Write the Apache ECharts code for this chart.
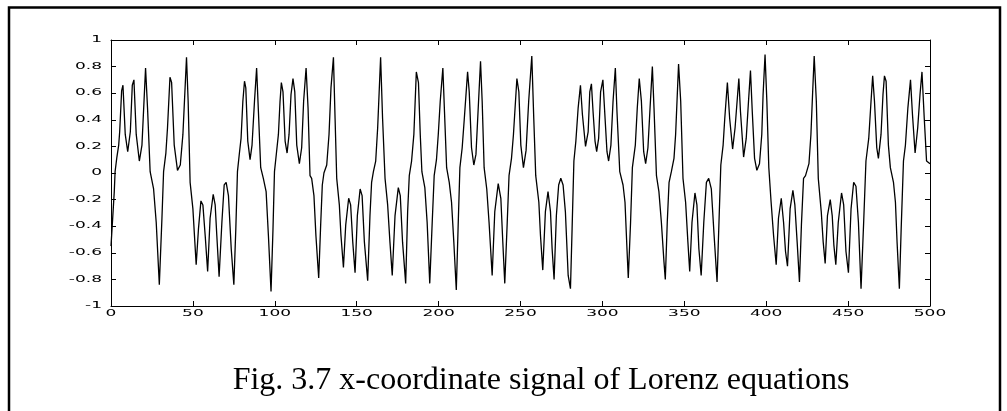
<!DOCTYPE html>
<html><head><meta charset="utf-8">
<script src="https://cdn.jsdelivr.net/npm/echarts@6/dist/echarts.min.js"></script>
<style>html,body{margin:0;padding:0;background:#fff}#c{width:1007px;height:411px}</style>
</head><body><div id="c"></div><script>
// Sample index (x axis) of each read point
const sampleIndex = [0,2,2.5,3.6,4.7,5.3,6.5,7.3,8.7,10.2,11.8,13,14,15.4,17.3,18.9,21.1,22.3,23.9,26,27.6,29.5,31.1,32.1,33.5,34.5,36,37,38.6,40.6,42.3,43.9,46.1,47.1,48.3,50,52,53.4,54.9,56.1,57.5,59,60.5,62.4,63.6,64.6,66,67.7,69.1,70.3,71.7,73.4,75,76.2,77.2,78.4,79.4,80.5,81.5,82.3,83.5,84.9,86.1,87.6,88.9,90,91.4,93,94.7,96.1,97.7,98.9,99.8,101,102.2,103.2,104,105,106.3,107.5,108.7,109.9,111.1,112.2,113.4,115,116.4,117.6,119.1,120.3,121.5,122.5,123.9,125.1,126.8,128,129,130,131.7,133.1,134.3,135.8,136.8,137.8,139.4,140.4,141.9,143.3,145.1,146.3,147.6,149,150.4,152.1,153.3,154.7,156.7,158.1,159.1,160.2,161.6,162.8,164.6,165.8,167.3,168.9,170.3,171.7,173.4,175.4,176.6,178,179.9,181.1,182.1,183.5,184.9,186.4,187.7,188.8,189.8,191.6,193,194.6,196.1,197.3,198.7,199.8,201,202.6,203.6,204.9,206.5,207.9,209.3,210.8,212,213,214.4,215.7,217.7,218.7,220.1,221.5,222.8,224.2,225.6,226.6,227.8,229.4,230.8,232.7,234.3,236.4,238,239.2,240.4,241.9,243,244.5,245.7,247.8,249,250.2,251.8,253.4,255,256.9,258.1,259.3,261.2,262.2,263.6,265.2,266.8,268.3,269.3,270.5,271.9,273.3,274.6,276,277.4,279.1,280.5,281.5,282.6,283.8,285.2,286.6,287.8,289.7,291.3,292.3,293.3,294.3,295.5,296.5,297.7,298.9,300.3,301.4,302.8,303.8,305.2,306.5,307.9,308.9,310.6,312.6,313.8,315,315.8,317.2,318.3,320.1,321.3,322.5,323.8,325.2,326.4,327.8,329.1,330.5,331.5,333,334.5,336,337.6,338.4,339.6,340.7,342.1,343.7,344.7,346.5,347.8,349.2,350.8,352.2,353.3,354.7,356.5,357.7,358.9,360.3,361.9,363.5,364.9,366.5,368.2,370,371.3,372.3,373.7,374.7,376.3,377.7,379.5,381,383.3,384.3,386.2,387.8,389.2,390.4,391.5,392.9,394.3,395.9,397.3,398.1,399.3,400.4,401.6,403,404.5,406.1,407.5,409.2,410.6,411.8,413,414.6,416.3,417.5,418.9,420.3,421.5,422.8,424,426.1,427.3,428.3,429.3,430.6,431.8,433.6,434.8,436,437.4,439.1,440.3,441.3,442.5,444,446,447.3,448.7,450.2,451.8,453.4,454.8,456.3,457.9,459.5,460.9,462.6,464,465,466.1,467.5,468.5,470.1,471.3,472.2,473.2,474.6,475.8,477.7,478.9,479.9,481.3,482.4,483.8,485,486.5,488.1,489.3,490.9,492.5,493.9,495.1,496.5,497.9,500];
// x-coordinate value at each read point
const xSignal = [-0.55,-0.14,0.01,0.12,0.21,0.31,0.62,0.66,0.29,0.16,0.31,0.66,0.70,0.29,0.09,0.21,0.79,0.49,0.01,-0.12,-0.37,-0.84,-0.34,0.01,0.15,0.34,0.72,0.68,0.21,0.02,0.06,0.29,0.87,0.54,-0.07,-0.27,-0.69,-0.42,-0.21,-0.24,-0.47,-0.74,-0.34,-0.16,-0.24,-0.47,-0.78,-0.37,-0.09,-0.07,-0.17,-0.57,-0.84,-0.42,0.01,0.15,0.26,0.54,0.69,0.64,0.24,0.10,0.21,0.54,0.79,0.46,0.04,-0.04,-0.14,-0.47,-0.89,-0.42,0.01,0.15,0.29,0.54,0.68,0.61,0.24,0.15,0.29,0.59,0.71,0.61,0.21,0.07,0.19,0.54,0.79,0.49,-0.02,-0.04,-0.17,-0.47,-0.79,-0.39,-0.09,0.00,0.06,0.29,0.64,0.87,0.41,-0.04,-0.24,-0.47,-0.71,-0.39,-0.19,-0.24,-0.52,-0.75,-0.32,-0.12,-0.17,-0.52,-0.81,-0.32,-0.07,0.01,0.09,0.34,0.87,0.41,-0.04,-0.24,-0.52,-0.77,-0.32,-0.11,-0.17,-0.52,-0.83,-0.29,-0.02,0.09,0.29,0.76,0.68,0.29,0.01,-0.11,-0.37,-0.83,-0.37,-0.02,0.10,0.29,0.54,0.79,0.46,0.04,-0.07,-0.22,-0.52,-0.88,-0.37,0.04,0.19,0.41,0.76,0.61,0.19,0.06,0.14,0.49,0.84,0.54,0.04,-0.12,-0.37,-0.77,-0.29,-0.08,-0.19,-0.52,-0.83,-0.37,-0.02,0.11,0.29,0.71,0.61,0.21,0.04,0.17,0.54,0.88,0.41,-0.02,-0.22,-0.47,-0.73,-0.29,-0.14,-0.29,-0.57,-0.80,-0.32,-0.09,-0.04,-0.09,-0.29,-0.77,-0.87,-0.42,0.09,0.24,0.49,0.66,0.44,0.20,0.31,0.61,0.67,0.46,0.24,0.16,0.26,0.61,0.70,0.46,0.16,0.09,0.21,0.54,0.79,0.46,0.01,-0.09,-0.22,-0.57,-0.79,-0.37,0.04,0.21,0.49,0.71,0.54,0.16,0.07,0.19,0.49,0.80,0.49,-0.02,-0.14,-0.37,-0.67,-0.80,-0.37,-0.07,0.01,0.11,0.29,0.82,0.54,-0.04,-0.22,-0.52,-0.74,-0.37,-0.15,-0.24,-0.57,-0.77,-0.37,-0.07,-0.04,-0.12,-0.47,-0.82,-0.32,0.06,0.21,0.41,0.68,0.41,0.18,0.34,0.71,0.46,0.12,0.26,0.54,0.77,0.46,0.11,0.02,0.07,0.29,0.59,0.89,0.54,0.04,-0.22,-0.47,-0.69,-0.34,-0.19,-0.37,-0.59,-0.70,-0.27,-0.13,-0.24,-0.52,-0.82,-0.39,-0.04,-0.02,0.07,0.29,0.59,0.88,0.54,-0.04,-0.29,-0.52,-0.68,-0.32,-0.20,-0.32,-0.54,-0.69,-0.37,-0.15,-0.24,-0.59,-0.75,-0.27,-0.07,-0.10,-0.37,-0.87,-0.37,0.09,0.26,0.54,0.73,0.54,0.19,0.11,0.29,0.59,0.73,0.69,0.21,0.04,-0.07,-0.22,-0.52,-0.87,-0.42,0.09,0.21,0.49,0.70,0.44,0.15,0.34,0.59,0.76,0.41,0.09,0.07];
const xTicks = [0,50,100,150,200,250,300,350,400,450,500];
const yTicks = [1,0.8,0.6,0.4,0.2,0,-0.2,-0.4,-0.6,-0.8,-1];
const captionText = 'Fig. 3.7 x-coordinate signal of Lorenz equations';

const seriesData = sampleIndex.map((t, i) => [t, xSignal[i]]);
const chart = echarts.init(document.getElementById('c'), null, {renderer: 'canvas'});
const axisLineStyle = {color: '#000', width: 1};
const baseX = {type: 'value', min: 0, max: 500, interval: 50, splitLine: {show: false},
  axisLine: {show: true, onZero: false, lineStyle: axisLineStyle},
  axisTick: {show: true, inside: true, length: 5, lineStyle: axisLineStyle}, axisLabel: {show: false}};
const baseY = {type: 'value', min: -1, max: 1, interval: 0.2, splitLine: {show: false},
  axisLine: {show: true, onZero: false, lineStyle: axisLineStyle},
  axisTick: {show: true, inside: true, length: 5, lineStyle: axisLineStyle}, axisLabel: {show: false}};
chart.setOption({
  animation: false,
  backgroundColor: '#fff',
  grid: {left: 111, top: 40, right: 77, bottom: 105, containLabel: false},
  xAxis: [Object.assign({position: 'bottom'}, baseX), Object.assign({position: 'top'}, baseX)],
  yAxis: [Object.assign({position: 'left'}, baseY), Object.assign({position: 'right'}, baseY)],
  series: [{type: 'line', data: seriesData, xAxisIndex: 0, yAxisIndex: 0, showSymbol: false,
    lineStyle: {color: '#000', width: 1.3}, silent: true}]
});

// Tick labels (wide, stretched Helvetica-like as in the reference), placed through the axis scales
const g = [];
const labelFont = '8.5px "DejaVu Sans"';
xTicks.forEach(v => {
  const p = chart.convertToPixel({xAxisIndex: 0, yAxisIndex: 0}, [v, -1]);
  g.push({type: 'text', x: p[0], y: p[1] + 8, scaleX: 2, silent: true,
    style: {text: String(v), font: labelFont, fill: '#000', textAlign: 'center', textVerticalAlign: 'middle'}});
});
yTicks.forEach(v => {
  const p = chart.convertToPixel({xAxisIndex: 0, yAxisIndex: 0}, [0, v]);
  g.push({type: 'text', x: p[0] - 9, y: p[1], scaleX: 2, silent: true,
    style: {text: String(Math.round(v * 10) / 10), font: labelFont, fill: '#000', textAlign: 'right', textVerticalAlign: 'middle'}});
});
// outer frame
g.push({type: 'rect', shape: {x: 9, y: 7.5, width: 991, height: 500}, silent: true,
  style: {fill: 'none', stroke: '#000', lineWidth: 2.5}});
// caption
g.push({type: 'text', x: 541, y: 381, silent: true,
  style: {text: captionText, font: '32px "Liberation Serif"', fill: '#000', textAlign: 'center', textVerticalAlign: 'middle'}});
chart.setOption({graphic: g});
</script></body></html>
